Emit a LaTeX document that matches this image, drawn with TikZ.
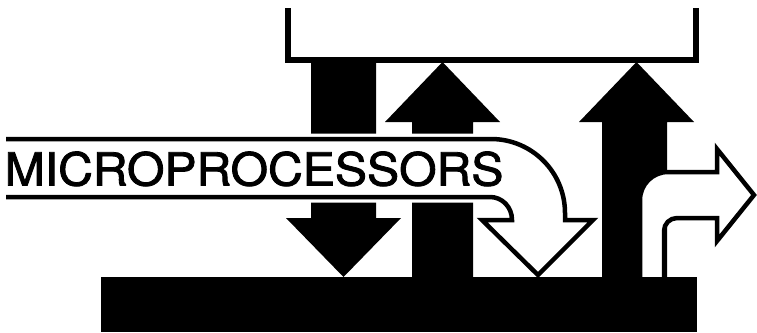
\documentclass[tikz,border=0pt]{standalone}
\usepackage{fontspec}
\setmainfont{TeX Gyre Heros}
\newfontfamily\bandfont[FakeBold=1.8]{TeX Gyre Heros}
\usepackage{graphicx}
\begin{document}
\begin{tikzpicture}[x=1pt,y=-1pt,
  blackshape/.style={fill=black,draw=none},
  bracketline/.style={draw=black,line width=6pt,line join=miter},
  outlineshape/.style={draw=black,fill=white,line width=4.5pt,line join=miter},
  haloed/.style={preaction={draw=white,line width=11pt,line join=round}},
  labeltext/.style={anchor=base west,inner sep=0pt,text=black}]
\useasboundingbox (0,0) rectangle (757,332);
% top bracket
\draw[bracketline] (288,8) -- (288,59.5) -- (695.5,59.5) -- (695.5,8);
% black down arrow
\path[blackshape] (311,60) -- (376,60) -- (376,218) -- (401,218) -- (343.5,277) -- (286,218) -- (311,218) -- cycle;
% black up arrow 1
\path[blackshape] (412,277) -- (412,122) -- (385,122) -- (442.5,62) -- (500,122) -- (473,122) -- (473,277) -- cycle;
% black up arrow 2
\path[blackshape] (602,277) -- (602,122) -- (579,122) -- (636.5,62) -- (694,122) -- (667,122) -- (667,277) -- cycle;
% white band curving down into an open arrow
\path[outlineshape,haloed] (6,139) -- (491,139)
   .. controls (531.9,139) and (565,172.1) .. (565,213)
   -- (565,220) -- (593,220) -- (538,275) -- (482,220) -- (512,220)
   .. controls (512,206.9) and (502.1,197) .. (490,197)
   -- (6,197);
\node[labeltext] (label) at (4.5,185.5) {\scalebox{1.058}[1]{\bandfont\fontsize{45.5pt}{54pt}\selectfont MICROPROCESSORS}};
% open right-turn arrow
\path[outlineshape] (640,277) -- (640,200)
   .. controls (640,184.5) and (652.5,172) .. (668,172)
   -- (717,172) -- (717,149) -- (754,195) -- (717,241) -- (717,218) -- (677,218)
   .. controls (669.8,218) and (664,223.8) .. (664,231)
   -- (664,277);
% bottom bar
\path[blackshape] (101,277) rectangle (697,332);
\end{tikzpicture}
\end{document}
